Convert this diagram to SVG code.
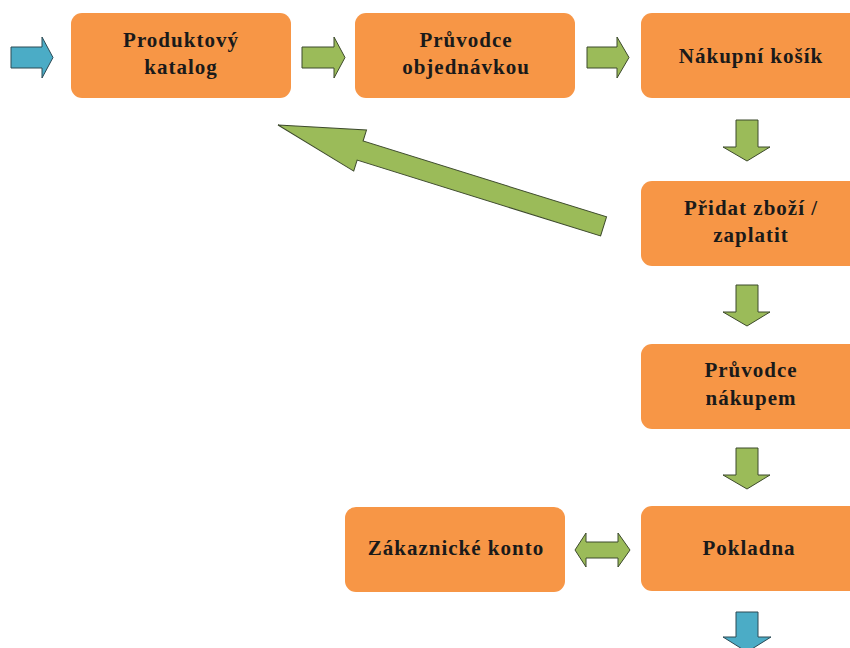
<svg xmlns="http://www.w3.org/2000/svg" width="850" height="648" viewBox="0 0 850 648">
<style>
.box{fill:#F79646;}
.t{font-family:"Liberation Serif","Times New Roman",serif;font-weight:bold;font-size:21px;letter-spacing:1px;fill:#1a1a1a;text-anchor:middle;}
.g{fill:#9BBB59;stroke:#3d4a2c;stroke-width:1;stroke-linejoin:miter;}
.b{fill:#4BACC6;stroke:#2c4a55;stroke-width:1;}
</style>
<rect width="850" height="648" fill="#ffffff"/>
<g id="connectors">
<path class="b" d="M11,47 H42 V37 L53,57.5 L42,78 V68 H11 Z"/>
<path class="g" d="M302,47 H334 V37 L345,57.5 L334,78 V68 H302 Z"/>
<path class="g" d="M587,47 H617 V37 L629,57.5 L617,78 V68 H587 Z"/>
<path class="g" d="M736,120 H758 V147 H770 L747,161 L723,147 H736 Z"/>
<path class="g" d="M736,285 H758 V312 H770 L747,326 L723,312 H736 Z"/>
<path class="g" d="M736,448 H758 V475 H770 L747,489 L723,475 H736 Z"/>
<path class="b" d="M736,612 H758 V637 H771 L747,652 L723,637 H736 Z"/>
<path class="g" d="M575,550 L586,533 V542 H618 V533 L630,550 L618,567 V558 H586 V567 Z"/>
<path class="g" transform="translate(278,125) rotate(17.3)" d="M0,0 L86,-21.5 L86,-10 L341,-10 L341,10 L86,10 L86,21.5 Z"/>
</g>
<g id="produktovy-katalog">
<rect class="box" x="71" y="13" width="220" height="85" rx="11"/>
<text class="t" x="181" y="47">Produktový</text>
<text class="t" x="181" y="74">katalog</text>
</g>
<g id="pruvodce-objednavkou">
<rect class="box" x="355" y="13" width="220" height="85" rx="11"/>
<text class="t" x="466" y="47">Průvodce</text>
<text class="t" x="466" y="74">objednávkou</text>
</g>
<g id="nakupni-kosik">
<rect class="box" x="641" y="13" width="220" height="85" rx="11"/>
<text class="t" x="751" y="63">Nákupní košík</text>
</g>
<g id="pridat-zbozi">
<rect class="box" x="641" y="181" width="220" height="85" rx="11"/>
<text class="t" x="751" y="215">Přidat zboží /</text>
<text class="t" x="751" y="242">zaplatit</text>
</g>
<g id="pruvodce-nakupem">
<rect class="box" x="641" y="344" width="220" height="85" rx="11"/>
<text class="t" x="751" y="377">Průvodce</text>
<text class="t" x="751" y="405">nákupem</text>
</g>
<g id="pokladna">
<rect class="box" x="641" y="506" width="220" height="85" rx="11"/>
<text class="t" x="749" y="555">Pokladna</text>
</g>
<g id="zakaznicke-konto">
<rect class="box" x="345" y="507" width="220" height="85" rx="11"/>
<text class="t" x="456" y="555">Zákaznické konto</text>
</g>
</svg>
